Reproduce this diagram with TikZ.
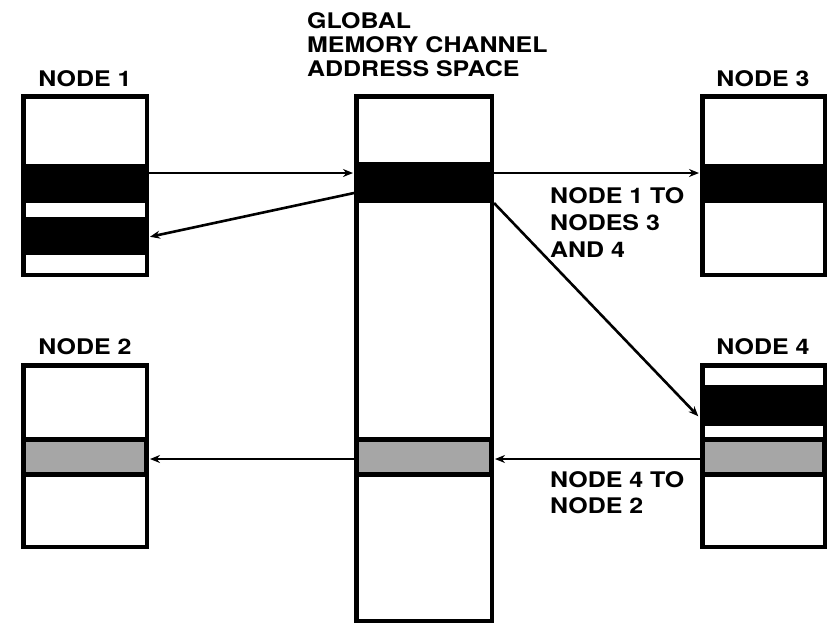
\documentclass[tikz,border=0pt]{standalone}
\usepackage{fontspec}
\newfontfamily\lblfont{TeX Gyre Heros}[FakeStretch=1.16]
\usetikzlibrary{arrows.meta}
\begin{document}
\begin{tikzpicture}[x=1pt,y=-1pt,
  boxline/.style={line width=4.5pt},
  band/.style={fill=black,draw=none},
  gband/.style={fill=black!35,draw=black,line width=5pt},
  conn/.style={line width=2.6pt,-{Stealth[length=10pt,width=8pt]},shorten >=1pt},
  lbl/.style={font=\lblfont\bfseries\fontsize{21.5}{24}\selectfont,inner sep=0pt}]
\useasboundingbox (0,0) rectangle (827,625);
\fill[white] (0,0) rectangle (827,625);
% bands
\fill[band] (21,164) rectangle (149,203);
\fill[band] (21,217) rectangle (149,255);
\fill[band] (354,162) rectangle (494,203);
\fill[band] (700,164) rectangle (827,203);
\fill[band] (700,385) rectangle (827,426);
\draw[gband] (23.5,439.5) rectangle (146.5,474.5);
\draw[gband] (356.5,439.5) rectangle (491.5,474.5);
\draw[gband] (702.5,439.5) rectangle (824.5,474.5);
% boxes
\draw[boxline] (23.25,96.25) rectangle (146.75,274.75);
\draw[boxline] (356.25,96.25) rectangle (491.75,620.75);
\draw[boxline] (702.25,96.25) rectangle (824.75,274.75);
\draw[boxline] (23.25,365.25) rectangle (146.75,546.75);
\draw[boxline] (702.25,365.25) rectangle (824.75,546.75);
% labels
\node[lbl,anchor=base] (l1) at (85,86) {NODE 1};
\node[lbl,anchor=base] (l3) at (763,86) {NODE 3};
\node[lbl,anchor=base] (l2) at (85,354) {NODE 2};
\node[lbl,anchor=base] (l4) at (763,354) {NODE 4};
\node[lbl,anchor=base west] (lg) at (307,28)
  {\vtop{\baselineskip=24pt\hbox{GLOBAL}\hbox{MEMORY CHANNEL}\hbox{ADDRESS SPACE}}};
\node[lbl,anchor=base west] (lt1) at (550,203)
  {\vtop{\baselineskip=27pt\hbox{NODE 1 TO}\hbox{NODES 3}\hbox{AND 4}}};
\node[lbl,anchor=base west] (lt2) at (550,487)
  {\vtop{\baselineskip=26pt\hbox{NODE 4 TO}\hbox{NODE 2}}};
% connector ends
\coordinate (n1a) at (149,173);
\coordinate (gca) at (354,173);
\coordinate (gcb) at (354,193);
\coordinate (n1b) at (149,237);
\coordinate (gcc) at (494,173);
\coordinate (n3a) at (700,173);
\coordinate (gcd) at (494,203);
\coordinate (n4a) at (699,417);
\coordinate (n4b) at (700,459);
\coordinate (gce) at (494,459);
\coordinate (gcf) at (354,459);
\coordinate (n2a) at (149,459);
\draw[conn] (n1a) -- (gca);
\draw[conn] (gcb) -- (n1b);
\draw[conn] (gcc) -- (n3a);
\draw[conn] (gcd) -- (n4a);
\draw[conn] (n4b) -- (gce);
\draw[conn] (gcf) -- (n2a);
\end{tikzpicture}
\end{document}
